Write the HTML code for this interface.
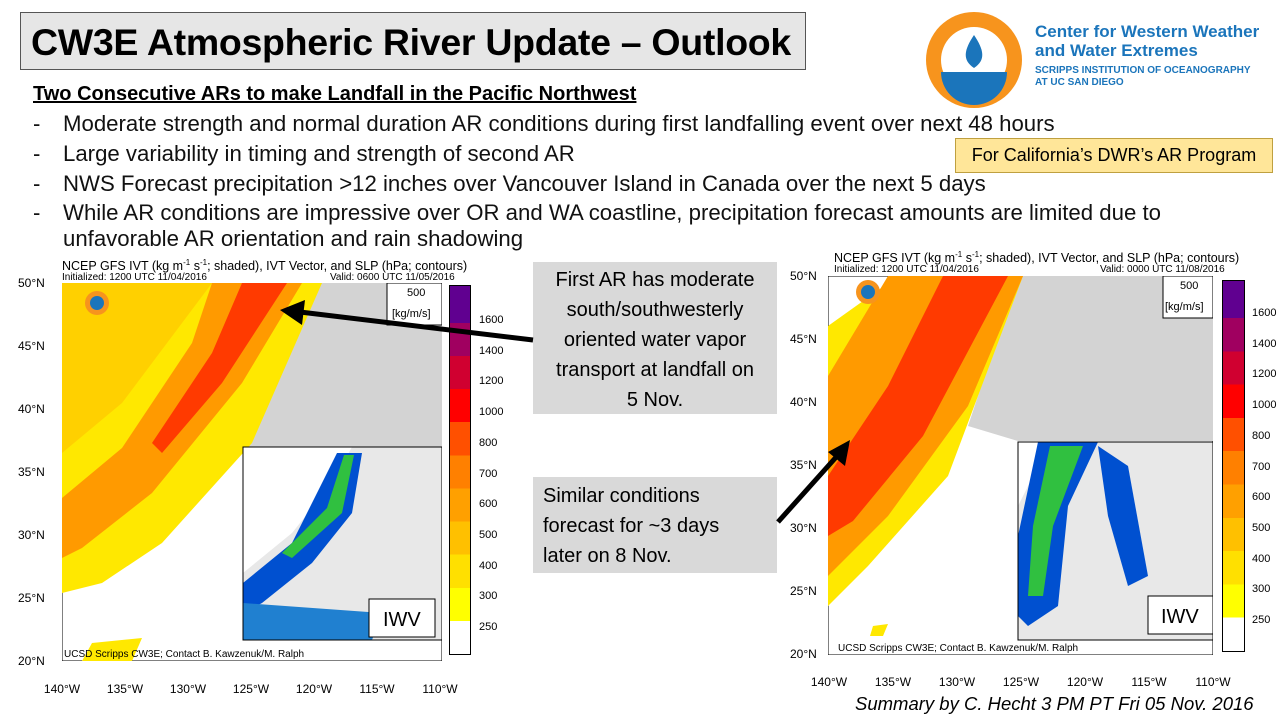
<!DOCTYPE html>
<html><head><meta charset="utf-8"><style>
body{margin:0;width:1280px;height:720px;background:#fff;position:relative;overflow:hidden;font-family:"Liberation Sans",sans-serif;}
.a{position:absolute;}
.title{left:20px;top:12px;width:786px;height:58px;background:#e6e6e6;border:1px solid #555;font-weight:bold;font-size:37.5px;line-height:58px;padding-left:10px;box-sizing:border-box;white-space:nowrap;letter-spacing:-0.3px;}
.sub{left:33px;top:83px;font-size:20px;font-weight:bold;text-decoration:underline;}
.b{left:33px;font-size:22.2px;color:#111;white-space:nowrap;}
.b span{display:inline-block;width:30px;}
.call{background:#d9d9d9;font-size:20px;text-align:center;line-height:30px;}
.cb{font-size:11px;}
.tick{font-size:12px;}
.hdr{font-size:12.5px;}
.hdr2{font-size:10px;}
.xt{position:absolute;font-size:12px;transform:translateX(-50%);}
</style></head><body>
<div class="a title">CW3E Atmospheric River Update – Outlook</div>
<div class="a sub">Two Consecutive ARs to make Landfall in the Pacific Northwest</div>
<div class="a b" style="top:111px"><span>-</span>Moderate strength and normal duration AR conditions during first landfalling event over next 48 hours</div>
<div class="a b" style="top:141px"><span>-</span>Large variability in timing and strength of second AR</div>
<div class="a b" style="top:171px"><span>-</span>NWS Forecast precipitation &gt;12 inches over Vancouver Island in Canada over the next 5 days</div>
<div class="a b" style="top:200px"><span>-</span>While AR conditions are impressive over OR and WA coastline, precipitation forecast amounts are limited due to</div>
<div class="a b" style="top:226px;left:63px">unfavorable AR orientation and rain shadowing</div>
<div class="a" style="left:955px;top:138px;width:318px;height:35px;background:#ffe699;border:1px solid #bfa040;box-sizing:border-box;font-size:18px;line-height:33px;text-align:center">For California’s DWR’s AR Program</div>
<svg class="a" style="left:924px;top:10px" width="100" height="100"><circle cx="50" cy="50" r="48" fill="#f7941d"/><circle cx="50" cy="50" r="33" fill="#fff"/><path d="M17 62 A33 33 0 0 0 83 62 Z" fill="#1b75bb"/><path d="M50 25 C40 40 38 50 50 58 C62 50 60 40 50 25Z" fill="#1b75bb"/></svg>
<div class="a" style="left:1035px;top:22px;color:#1b75bb;font-size:17px;font-weight:bold;line-height:19px">Center for Western Weather<br>and Water Extremes</div>
<div class="a" style="left:1035px;top:65px;color:#1b75bb;font-size:10px;font-weight:bold;line-height:12px">SCRIPPS INSTITUTION OF OCEANOGRAPHY<br>AT UC SAN DIEGO</div>

<div class="a hdr" style="left:62px;top:258px">NCEP GFS IVT (kg m<sup style="font-size:8px">-1</sup> s<sup style="font-size:8px">-1</sup>; shaded), IVT Vector, and SLP (hPa; contours)</div>
<div class="a hdr2" style="left:62px;top:272px">Initialized: 1200 UTC 11/04/2016</div>
<div class="a hdr2" style="left:330px;top:272px">Valid: 0600 UTC 11/05/2016</div>
<svg class="a" style="left:62px;top:283px" width="380" height="378">
<rect width="380" height="378" fill="#fff" stroke="#000"/>
<polygon points="250,0 380,0 380,170 180,170 190,130 230,60" fill="#d3d3d3"/>
<polygon points="0,0 260,0 190,160 100,260 40,300 0,310" fill="#ffe800"/>
<polygon points="0,0 150,0 60,120 0,170" fill="#ffd000"/>
<polygon points="150,0 240,0 180,100 90,210 20,265 0,275 0,215 60,165 130,60" fill="#ff9a00"/>
<polygon points="180,0 225,0 160,100 100,170 90,160 150,70" fill="#ff3a00"/>
<polygon points="30,360 80,355 70,378 20,378" fill="#ffe800"/>
<rect x="181" y="164" width="199" height="193" fill="#e8e8e8"/>
<polygon points="181,164 290,164 270,200 230,250 181,290" fill="#fff"/>
<polygon points="275,170 300,170 290,230 250,280 200,320 181,330 181,300 230,260" fill="#0050d0"/>
<polygon points="282,172 292,172 280,230 230,275 220,270 265,225" fill="#30c040"/>
<polygon points="181,320 320,330 310,357 181,357" fill="#2080d0"/>
<rect x="181" y="164" width="199" height="193" fill="none" stroke="#000"/>
<rect x="307" y="316" width="66" height="38" fill="#fff" stroke="#000"/>
<text x="321" y="343" font-size="20" font-family="Liberation Sans">IWV</text>
<rect x="325" y="0" width="55" height="42" fill="#fff" stroke="#000"/>
<text x="345" y="13" font-size="11" font-family="Liberation Sans">500</text>
<text x="330" y="34" font-size="11" font-family="Liberation Sans">[kg/m/s]</text>
<circle cx="35" cy="20" r="12" fill="#f7941d"/><circle cx="35" cy="20" r="7" fill="#1b75bb"/>
<text x="2" y="374" font-size="10" font-family="Liberation Sans">UCSD Scripps CW3E; Contact B. Kawzenuk/M. Ralph</text>
</svg>
<div class="a" style="left:449px;top:285px;width:22px;height:370px;border:1px solid #000;box-sizing:border-box;background:linear-gradient(to top,#fff 0 9%,#ffff00 9% 18%,#ffe000 18% 27%,#ffc000 27% 36%,#ffa000 36% 45%,#ff8000 45% 54%,#ff5000 54% 63%,#ff0000 63% 72%,#d00030 72% 81%,#a00060 81% 90%,#600090 90%)"></div>
<div class="a cb" style="left:479px;top:305px;line-height:30.7px">1600<br>1400<br>1200<br>1000<br>800<br>700<br>600<br>500<br>400<br>300<br>250</div>
<div class="a tick" style="left:18px;top:252px;line-height:63px">50°N<br>45°N<br>40°N<br>35°N<br>30°N<br>25°N<br>20°N</div>
<div class="xt" style="left:62px;top:682px">140°W</div><div class="xt" style="left:125px;top:682px">135°W</div><div class="xt" style="left:188px;top:682px">130°W</div><div class="xt" style="left:251px;top:682px">125°W</div><div class="xt" style="left:314px;top:682px">120°W</div><div class="xt" style="left:377px;top:682px">115°W</div><div class="xt" style="left:440px;top:682px">110°W</div>

<div class="a hdr" style="left:834px;top:250px">NCEP GFS IVT (kg m<sup style="font-size:8px">-1</sup> s<sup style="font-size:8px">-1</sup>; shaded), IVT Vector, and SLP (hPa; contours)</div>
<div class="a hdr2" style="left:834px;top:264px">Initialized: 1200 UTC 11/04/2016</div>
<div class="a hdr2" style="left:1100px;top:264px">Valid: 0000 UTC 11/08/2016</div>
<svg class="a" style="left:828px;top:276px" width="385" height="379">
<rect width="385" height="379" fill="#fff" stroke="#000"/>
<polygon points="190,0 385,0 385,165 190,165 140,150" fill="#d3d3d3"/>
<polygon points="0,330 0,50 70,0 195,0 120,200 40,290" fill="#ffe800"/>
<polygon points="60,0 195,0 140,130 60,240 0,300 0,100" fill="#ff9a00"/>
<polygon points="115,0 180,0 95,160 25,245 0,260 0,200 60,110" fill="#ff3a00"/>
<polygon points="45,350 60,348 55,360 42,360" fill="#ffe800"/>
<rect x="190" y="166" width="195" height="198" fill="#e8e8e8"/>
<polygon points="190,166 220,166 200,210 190,230" fill="#fff"/>
<polygon points="210,166 270,166 240,230 230,330 200,350 190,340 190,260" fill="#0050d0"/>
<polygon points="222,170 255,170 225,250 215,320 200,320 205,250" fill="#30c040"/>
<polygon points="270,170 300,190 320,300 300,310 280,240" fill="#0050d0"/>
<rect x="190" y="166" width="195" height="198" fill="none" stroke="#000"/>
<rect x="320" y="320" width="65" height="38" fill="#fff" stroke="#000"/>
<text x="333" y="347" font-size="20" font-family="Liberation Sans">IWV</text>
<rect x="335" y="0" width="50" height="42" fill="#fff" stroke="#000"/>
<text x="352" y="13" font-size="11" font-family="Liberation Sans">500</text>
<text x="337" y="34" font-size="11" font-family="Liberation Sans">[kg/m/s]</text>
<circle cx="40" cy="16" r="12" fill="#f7941d"/><circle cx="40" cy="16" r="7" fill="#1b75bb"/>
<text x="10" y="375" font-size="10" font-family="Liberation Sans">UCSD Scripps CW3E; Contact B. Kawzenuk/M. Ralph</text>
</svg>
<div class="a" style="left:1222px;top:280px;width:23px;height:372px;border:1px solid #000;box-sizing:border-box;background:linear-gradient(to top,#fff 0 9%,#ffff00 9% 18%,#ffe000 18% 27%,#ffc000 27% 36%,#ffa000 36% 45%,#ff8000 45% 54%,#ff5000 54% 63%,#ff0000 63% 72%,#d00030 72% 81%,#a00060 81% 90%,#600090 90%)"></div>
<div class="a cb" style="left:1252px;top:298px;line-height:30.7px">1600<br>1400<br>1200<br>1000<br>800<br>700<br>600<br>500<br>400<br>300<br>250</div>
<div class="a tick" style="left:790px;top:245px;line-height:63px">50°N<br>45°N<br>40°N<br>35°N<br>30°N<br>25°N<br>20°N</div>
<div class="xt" style="left:829px;top:675px">140°W</div><div class="xt" style="left:893px;top:675px">135°W</div><div class="xt" style="left:957px;top:675px">130°W</div><div class="xt" style="left:1021px;top:675px">125°W</div><div class="xt" style="left:1085px;top:675px">120°W</div><div class="xt" style="left:1149px;top:675px">115°W</div><div class="xt" style="left:1213px;top:675px">110°W</div>

<div class="a call" style="left:533px;top:262px;width:244px;height:152px;padding:3px 14px 0;box-sizing:border-box">First AR has moderate south/southwesterly oriented water vapor transport at landfall on<br>5 Nov.</div>
<div class="a call" style="left:533px;top:477px;width:244px;height:96px;text-align:left;padding:4px 40px 4px 10px;box-sizing:border-box">Similar conditions forecast for ~3 days later on 8 Nov.</div>
<svg class="a" style="left:0;top:0" width="1280" height="720">
<line x1="533" y1="340" x2="300" y2="312" stroke="#000" stroke-width="5"/>
<polygon points="280,310 305,300 302,325" fill="#000"/>
<line x1="778" y1="522" x2="838" y2="455" stroke="#000" stroke-width="5"/>
<polygon points="850,440 828,452 845,466" fill="#000"/>
</svg>
<div class="a" style="left:855px;top:693px;font-size:18.5px;font-style:italic">Summary by C. Hecht 3 PM PT Fri 05 Nov. 2016</div>
</body></html>
